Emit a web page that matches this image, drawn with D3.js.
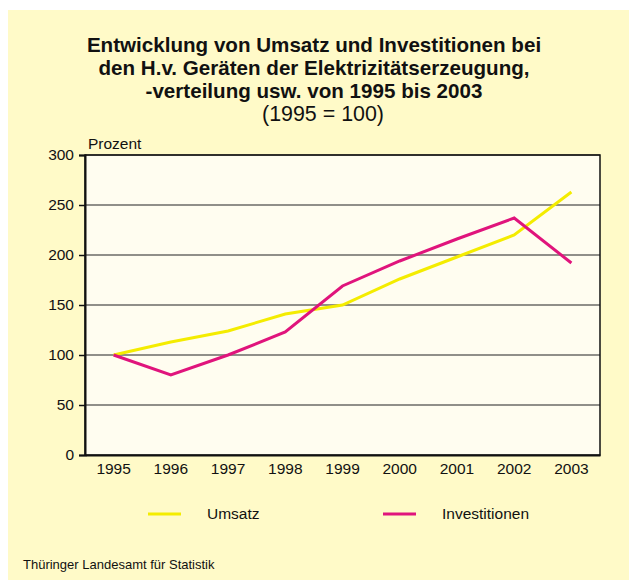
<!DOCTYPE html>
<html>
<head>
    <meta charset="UTF-8">
    <title>Umsatz und Investitionen</title>
    <script src="https://d3js.org/d3.v7.min.js"></script>
    <style type="text/css">
        body { margin: 0; background: #ffffff; }
        text { font-family: "Liberation Sans", Arial, sans-serif; fill: #111; }
    </style>
</head>
<body>
    <script type="text/javascript">
        // Data (1995 = 100)
        var years = ["1995", "1996", "1997", "1998", "1999", "2000", "2001", "2002", "2003"];
        var umsatz = [100, 113, 124, 141, 150, 176, 198, 220, 263];
        var investitionen = [100, 80, 100, 123, 169, 194, 216, 237, 192];
        var yTicks = [0, 50, 100, 150, 200, 250, 300];
        var titleLines = [
            "Entwicklung von Umsatz und Investitionen bei",
            "den H.v. Geräten der Elektrizitätserzeugung,",
            "-verteilung usw. von 1995 bis 2003"
        ];

        var series = [
            { name: "Umsatz", values: umsatz, color: "#f4ec00" },
            { name: "Investitionen", values: investitionen, color: "#e0147c" }
        ];

        var W = 629, H = 580;
        var margin = { top: 155, right: 29, bottom: 125, left: 85 },
            width = W - margin.left - margin.right,
            height = H - margin.top - margin.bottom;

        var svg = d3.select("body")
            .append("svg")
            .attr("width", W)
            .attr("height", H);

        // Yellow panel
        svg.append("rect")
            .attr("x", 8).attr("y", 10)
            .attr("width", W - 8).attr("height", H - 10)
            .attr("fill", "#fffac8");

        // Title
        svg.selectAll(".title")
            .data(titleLines)
            .enter().append("text")
            .attr("class", "title")
            .attr("x", 314)
            .attr("y", function (d, i) { return 52 + i * 23; })
            .attr("text-anchor", "middle")
            .style("font-size", "20.6px")
            .style("font-weight", "bold")
            .text(function (d) { return d; });

        svg.append("text")
            .attr("x", 323)
            .attr("y", 121)
            .attr("text-anchor", "middle")
            .style("font-size", "21.4px")
            .text("(1995 = 100)");

        var g = svg.append("g")
            .attr("transform", "translate(" + margin.left + "," + margin.top + ")");

        var x = d3.scaleBand().domain(years).range([0, width]);
        var y = d3.scaleLinear().domain([0, 300]).range([height, 0]);

        // Plot background
        g.append("rect")
            .attr("width", width).attr("height", height)
            .attr("fill", "#fffdf0");

        // Grid lines
        g.selectAll(".grid")
            .data(yTicks.slice(1))
            .enter().append("line")
            .attr("x1", 0).attr("x2", width)
            .attr("y1", function (d) { return y(d); })
            .attr("y2", function (d) { return y(d); })
            .attr("stroke", "#222")
            .attr("stroke-width", 1.2);

        // Frame
        g.append("rect")
            .attr("width", width).attr("height", height)
            .attr("fill", "none")
            .attr("stroke", "#111")
            .attr("stroke-width", 1.5);

        // Y axis
        var yAxis = g.append("g")
            .call(d3.axisLeft(y).tickValues(yTicks).tickSize(6).tickPadding(5));
        yAxis.select(".domain").attr("stroke", "#111").attr("stroke-width", 2);
        yAxis.selectAll(".tick line").attr("stroke", "#111").attr("stroke-width", 1.5);
        yAxis.selectAll("text").style("font-size", "15.5px").attr("fill", "#111");

        // X axis
        var xAxis = g.append("g")
            .attr("transform", "translate(0," + height + ")")
            .call(d3.axisBottom(x).tickSize(0).tickPadding(8));
        xAxis.select(".domain").attr("stroke", "#111").attr("stroke-width", 2);
        xAxis.selectAll("text").style("font-size", "15.5px").attr("fill", "#111");

        // Axis label
        g.append("text")
            .attr("x", 3)
            .attr("y", -6)
            .style("font-size", "15.5px")
            .text("Prozent");

        // Lines
        var line = d3.line()
            .x(function (d, i) { return x(years[i]) + x.bandwidth() / 2; })
            .y(function (d) { return y(d); });

        g.selectAll(".series")
            .data(series)
            .enter().append("path")
            .attr("class", "series")
            .attr("fill", "none")
            .attr("stroke", function (d) { return d.color; })
            .attr("stroke-width", 3)
            .attr("d", function (d) { return line(d.values); });

        // Legend
        var legend = svg.selectAll(".legend")
            .data(series)
            .enter().append("g")
            .attr("class", "legend")
            .attr("transform", function (d, i) { return "translate(" + (148 + i * 235) + ",514)"; });

        legend.append("line")
            .attr("x1", 0).attr("x2", 33)
            .attr("stroke", function (d) { return d.color; })
            .attr("stroke-width", 3);

        legend.append("text")
            .attr("x", 59)
            .attr("y", 5)
            .style("font-size", "15.5px")
            .text(function (d) { return d.name; });

        // Source
        svg.append("text")
            .attr("x", 23)
            .attr("y", 569)
            .style("font-size", "13px")
            .text("Thüringer Landesamt für Statistik");
    </script>
</body>
</html>
